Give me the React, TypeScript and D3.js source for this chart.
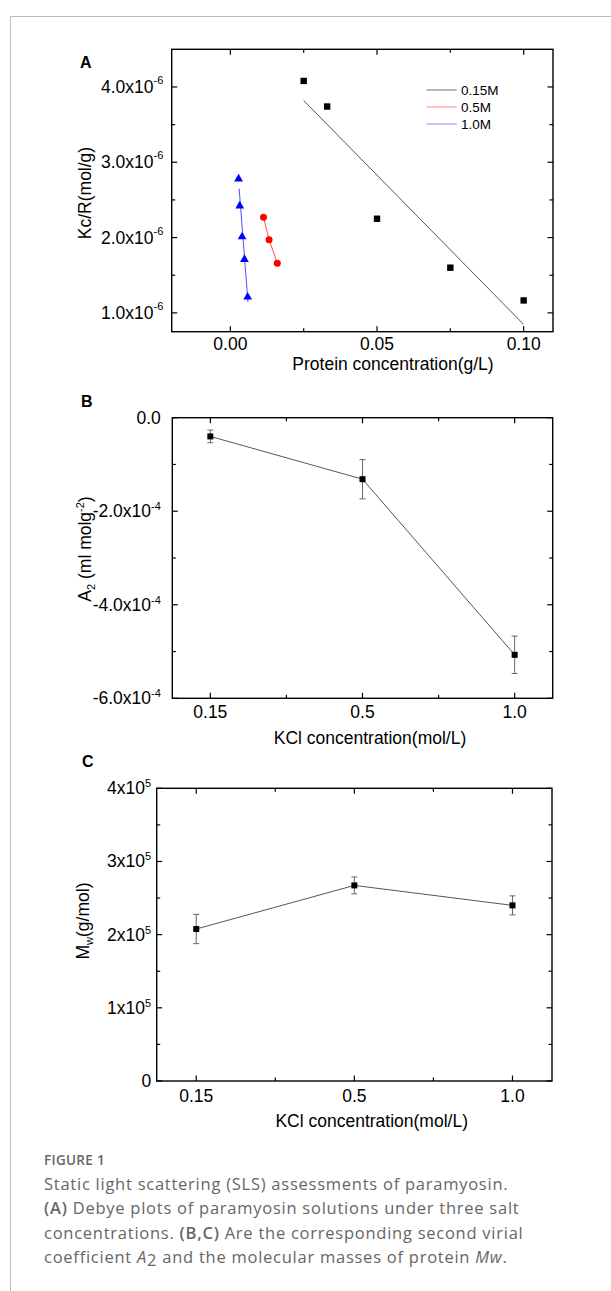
import { useEffect, useRef } from "react";
import * as d3 from "d3";

// ---- panel A: Debye plots ----
const concA015 = [0.025, 0.033, 0.05, 0.075, 0.1];
const kcrA015 = [4.08e-6, 3.74e-6, 2.25e-6, 1.6e-6, 1.165e-6];
const fitA015 = [
  [0.025, 3.82e-6],
  [0.1, 0.846e-6],
];
const concA05 = [0.0113, 0.0132, 0.016];
const kcrA05 = [2.27e-6, 1.97e-6, 1.66e-6];
const concA10 = [0.0028, 0.0032, 0.004, 0.0048, 0.0059];
const kcrA10 = [2.78e-6, 2.42e-6, 2.01e-6, 1.71e-6, 1.21e-6];
const fitA10 = [
  [0.003, 2.65e-6],
  [0.006, 1.145e-6],
];
const legendLabels = ["0.15M", "0.5M", "1.0M"];

// ---- panels B and C ----
const kclLabels = ["0.15", "0.5", "1.0"];
const a2Values = [-0.4e-4, -1.315e-4, -5.07e-4];
const a2Errors = [0.135e-4, 0.42e-4, 0.4e-4];
const mwValues = [2.077e5, 2.673e5, 2.4e5];
const mwErrors = [0.2e5, 0.115e5, 0.13e5];

const FONT = "'Liberation Sans', Arial, sans-serif";
const CAP_FONT = "'Open Sans', 'Noto Sans', sans-serif";
const FS = "17.5px";

type YTick = { v: number; main: string; sup?: string };

function drawFrame(
  g: any,
  x: any,
  y: any,
  xMajor: number[],
  xMinor: number[],
  yMajor: number[],
  yMinor: number[]
) {
  const [x0, x1] = x.range();
  const [y0, y1] = y.range();
  const tick = (x1_: number, y1_: number, x2_: number, y2_: number) =>
    g
      .append("line")
      .attr("x1", x1_)
      .attr("y1", y1_)
      .attr("x2", x2_)
      .attr("y2", y2_)
      .attr("stroke", "#000")
      .attr("stroke-width", 1.2);
  xMajor.forEach((v) => {
    tick(x(v), y0, x(v), y0 - 5.5);
    tick(x(v), y1, x(v), y1 + 5.5);
  });
  xMinor.forEach((v) => {
    tick(x(v), y0, x(v), y0 - 3.5);
    tick(x(v), y1, x(v), y1 + 3.5);
  });
  yMajor.forEach((v) => {
    tick(x0, y(v), x0 + 5.5, y(v));
    tick(x1, y(v), x1 - 5.5, y(v));
  });
  yMinor.forEach((v) => {
    tick(x0, y(v), x0 + 3.5, y(v));
    tick(x1, y(v), x1 - 3.5, y(v));
  });
  g.append("rect")
    .attr("x", x0)
    .attr("y", y1)
    .attr("width", x1 - x0)
    .attr("height", y0 - y1)
    .attr("fill", "none")
    .attr("stroke", "#000")
    .attr("stroke-width", 1.4);
}

function yLabels(g: any, y: any, x0: number, ticks: YTick[], gap: number, supDy: number) {
  ticks.forEach((t) => {
    const txt = g
      .append("text")
      .attr("x", x0 - gap)
      .attr("y", y(t.v) + 6)
      .attr("text-anchor", "end")
      .style("font-family", FONT)
      .style("font-size", FS)
      .attr("fill", "#000");
    txt.append("tspan").text(t.main);
    if (t.sup) txt.append("tspan").attr("dy", supDy).style("font-size", "11px").text(t.sup);
  });
}

function xLabels(g: any, x: any, baseline: number, vals: number[], labels: string[]) {
  vals.forEach((v, i) => {
    g.append("text")
      .attr("x", x(v))
      .attr("y", baseline)
      .attr("text-anchor", "middle")
      .style("font-family", FONT)
      .style("font-size", FS)
      .text(labels[i]);
  });
}

function simpleText(g: any, x: number, y: number, s: string, size: string, anchor = "middle", weight = "normal") {
  return g
    .append("text")
    .attr("x", x)
    .attr("y", y)
    .attr("text-anchor", anchor)
    .style("font-family", FONT)
    .style("font-size", size)
    .style("font-weight", weight)
    .text(s);
}

export default function App() {
  const ref = useRef<SVGSVGElement>(null);

  useEffect(() => {
    const svg = d3.select(ref.current);
    svg.selectAll("*").remove();

    // outer frame
    svg.append("line").attr("x1", 10.5).attr("y1", 16.5).attr("x2", 611).attr("y2", 16.5).attr("stroke", "#bdbdbd");
    svg.append("line").attr("x1", 10.5).attr("y1", 16.5).attr("x2", 10.5).attr("y2", 1291).attr("stroke", "#bdbdbd");

    // ================= Panel A =================
    const gA = svg.append("g");
    const xA = d3.scaleLinear().domain([-0.02, 0.11]).range([171.7, 553]);
    const yA = d3.scaleLinear().domain([0.75e-6, 4.5e-6]).range([331.7, 49.3]);
    const line = d3.line<number[]>().x((d) => xA(d[0])).y((d) => yA(d[1]));

    gA.append("path").attr("d", line(fitA015)).attr("stroke", "#555").attr("stroke-width", 1).attr("fill", "none");
    gA.append("path")
      .attr("d", line(concA05.map((c, i) => [c, kcrA05[i]])))
      .attr("stroke", "#ff4d4d")
      .attr("stroke-width", 1)
      .attr("fill", "none");
    gA.append("path").attr("d", line(fitA10)).attr("stroke", "#4d4dff").attr("stroke-width", 1).attr("fill", "none");

    concA015.forEach((c, i) => {
      gA.append("rect")
        .attr("x", xA(c) - 3.2)
        .attr("y", yA(kcrA015[i]) - 3.2)
        .attr("width", 6.4)
        .attr("height", 6.4)
        .attr("fill", "#000");
    });
    concA05.forEach((c, i) => {
      gA.append("circle").attr("cx", xA(c)).attr("cy", yA(kcrA05[i])).attr("r", 3.5).attr("fill", "#ff0000");
    });
    const tri = d3.symbol().type(d3.symbolTriangle).size(34);
    concA10.forEach((c, i) => {
      gA.append("path")
        .attr("d", tri())
        .attr("transform", `translate(${xA(c)},${yA(kcrA10[i])})`)
        .attr("fill", "#0000ff");
    });

    drawFrame(gA, xA, yA, [0, 0.05, 0.1], [0.025, 0.075], [1e-6, 2e-6, 3e-6, 4e-6], [1.5e-6, 2.5e-6, 3.5e-6]);
    yLabels(
      gA,
      yA,
      171.7,
      [1, 2, 3, 4].map((v) => ({ v: v * 1e-6, main: v.toFixed(1) + "x10", sup: "-6" })),
      8.4,
      -9
    );
    xLabels(gA, xA, 349.8, [0, 0.05, 0.1], ["0.00", "0.05", "0.10"]);
    simpleText(gA, 393, 369.5, "Protein concentration(g/L)", FS);
    gA.append("text")
      .attr("transform", "translate(91,193) rotate(-90)")
      .attr("text-anchor", "middle")
      .style("font-family", FONT)
      .style("font-size", FS)
      .text("Kc/R(mol/g)");
    simpleText(gA, 80, 68.3, "A", "16px", "start", "bold");

    // legend
    const legColors = ["#8a8a8a", "#ff9a9a", "#9a9aff"];
    legendLabels.forEach((l, i) => {
      const ly = 90 + i * 17;
      gA.append("line").attr("x1", 426.5).attr("x2", 456.7).attr("y1", ly).attr("y2", ly).attr("stroke", legColors[i]).attr("stroke-width", 1.2);
      gA.append("text")
        .attr("x", 461)
        .attr("y", ly + 4.6)
        .style("font-family", FONT)
        .style("font-size", "13.5px")
        .text(l);
    });

    // ================= Panels B & C =================
    const idx = [1, 2, 3];
    function catPanel(
      g: any,
      x0: number,
      x1: number,
      y0: number,
      y1: number,
      dom: number[],
      vals: number[],
      errs: number[],
      yMajor: YTick[],
      yMinor: number[],
      gap: number,
      supDy: number,
      tickBase: number
    ) {
      const x = d3.scaleLinear().domain([0.75, 3.25]).range([x0, x1]);
      const y = d3.scaleLinear().domain(dom).range([y0, y1]);
      const ln = d3.line<number>().x((_, i) => x(idx[i])).y((d) => y(d));
      g.append("path").attr("d", ln(vals)).attr("stroke", "#555").attr("stroke-width", 1).attr("fill", "none");
      vals.forEach((v, i) => {
        const cx = x(idx[i]);
        const eg = g.append("g").attr("stroke", "#666").attr("stroke-width", 1);
        eg.append("line").attr("x1", cx).attr("x2", cx).attr("y1", y(v - errs[i])).attr("y2", y(v + errs[i]));
        eg.append("line").attr("x1", cx - 3).attr("x2", cx + 3).attr("y1", y(v - errs[i])).attr("y2", y(v - errs[i]));
        eg.append("line").attr("x1", cx - 3).attr("x2", cx + 3).attr("y1", y(v + errs[i])).attr("y2", y(v + errs[i]));
        g.append("rect").attr("x", cx - 3).attr("y", y(v) - 3).attr("width", 6).attr("height", 6).attr("fill", "#000");
      });
      drawFrame(g, x, y, idx, [1.5, 2.5], yMajor.map((t) => t.v), yMinor);
      yLabels(g, y, x0, yMajor, gap, supDy);
      xLabels(g, x, tickBase, idx, kclLabels);
      return x;
    }

    const gB = svg.append("g");
    catPanel(
      gB,
      172.3,
      552.7,
      698.3,
      417.7,
      [-6e-4, 0],
      a2Values,
      a2Errors,
      [
        { v: 0, main: "0.0" },
        { v: -2e-4, main: "-2.0x10", sup: "-4" },
        { v: -4e-4, main: "-4.0x10", sup: "-4" },
        { v: -6e-4, main: "-6.0x10", sup: "-4" },
      ],
      [-1e-4, -3e-4, -5e-4],
      11.5,
      -7,
      718.3
    );
    simpleText(gB, 370, 743.5, "KCl concentration(mol/L)", FS);
    const tB = gB
      .append("text")
      .attr("transform", "translate(91,549) rotate(-90)")
      .attr("text-anchor", "middle")
      .style("font-family", FONT)
      .style("font-size", FS);
    tB.append("tspan").text("A");
    tB.append("tspan").attr("dy", 4).style("font-size", "11px").text("2");
    tB.append("tspan").attr("dy", -4).text(" (ml molg");
    tB.append("tspan").attr("dy", -7).style("font-size", "11px").text("-2");
    tB.append("tspan").attr("dy", 7).text(")");
    simpleText(gB, 81, 407.3, "B", "16px", "start", "bold");

    const gC = svg.append("g");
    catPanel(
      gC,
      156.7,
      552,
      1081,
      788.3,
      [0, 4e5],
      mwValues,
      mwErrors,
      [
        { v: 0, main: "0" },
        { v: 1e5, main: "1x10", sup: "5" },
        { v: 2e5, main: "2x10", sup: "5" },
        { v: 3e5, main: "3x10", sup: "5" },
        { v: 4e5, main: "4x10", sup: "5" },
      ],
      [0.5e5, 1.5e5, 2.5e5, 3.5e5],
      5.5,
      -7,
      1101.7
    );
    simpleText(gC, 371.7, 1127, "KCl concentration(mol/L)", FS);
    const tC = gC
      .append("text")
      .attr("transform", "translate(89,921) rotate(-90)")
      .attr("text-anchor", "middle")
      .style("font-family", FONT)
      .style("font-size", FS);
    tC.append("tspan").text("M");
    tC.append("tspan").attr("dy", 4).style("font-size", "11px").text("w");
    tC.append("tspan").attr("dy", -4).text("(g/mol)");
    simpleText(gC, 82, 766.7, "C", "16px", "start", "bold");

    // ================= Caption =================
    const cap = svg.append("g").style("font-family", CAP_FONT).attr("fill", "#666");
    cap.append("text")
      .attr("x", 44)
      .attr("y", 1165)
      .style("font-size", "13.5px")
      .style("font-weight", 600)
      .style("letter-spacing", "0.3px")
      .text("FIGURE 1");
    const lines: [string, string][][] = [
      [["n", "Static light scattering (SLS) assessments of paramyosin."]],
      [
        ["b", "(A)"],
        ["n", " Debye plots of paramyosin solutions under three salt"],
      ],
      [
        ["n", "concentrations. "],
        ["b", "(B,C)"],
        ["n", " Are the corresponding second virial"],
      ],
      [
        ["n", "coefficient "],
        ["i", "A"],
        ["s", "2"],
        ["n", " and the molecular masses of protein "],
        ["i", "Mw"],
        ["n", "."],
      ],
    ];
    lines.forEach((parts, li) => {
      const t = cap
        .append("text")
        .attr("x", 44)
        .attr("y", 1189.5 + li * 24.6)
        .style("font-size", "16.5px")
        .style("letter-spacing", "0.75px");
      parts.forEach(([k, s]) => {
        const sp = t.append("tspan").text(s);
        if (k === "b") sp.style("font-weight", 600);
        if (k === "i") sp.style("font-style", "italic");
        if (k === "s") sp.attr("dy", 3);
        if (k === "n" && s.startsWith(" and")) sp.attr("dy", -3);
      });
    });
  }, []);

  return (
    <div style={{ position: "absolute", left: 0, top: 0 }}>
      <svg ref={ref} width={611} height={1291} style={{ display: "block", background: "#fff" }} />
    </div>
  );
}
